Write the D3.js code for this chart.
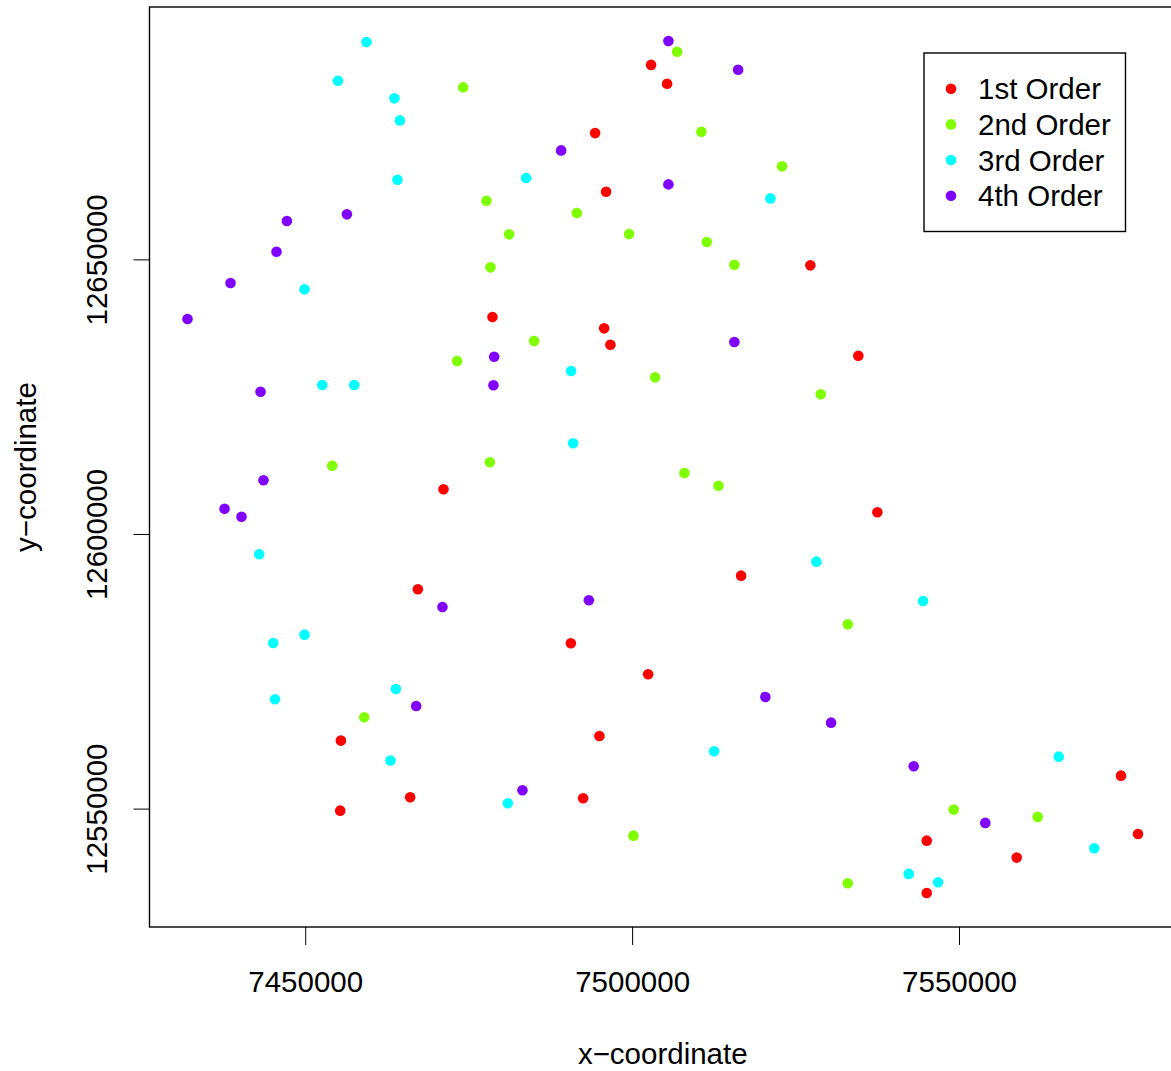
<!DOCTYPE html>
<html>
<head>
<meta charset="utf-8">
<script src="https://cdn.jsdelivr.net/npm/d3@7"></script>
<style>
  body { margin: 0; background: #fff; }
  svg text { font-family: "Liberation Sans", Arial, Helvetica, sans-serif; fill: #000; }
</style>
</head>
<body>
<svg id="chart" width="1171" height="1071"></svg>
<script>
/*******************************************************************************
 * Stream order points
 */
var orderNames = ["1st Order", "2nd Order", "3rd Order", "4th Order"];

var xFirst = [7502900, 7505350, 7494340, 7496020, 7527260, 7478640, 7495720, 7496680, 7534600,
	7471150, 7537510, 7516670, 7467230, 7490630, 7502450, 7455460, 7495000, 7466050, 7492510,
	7455350, 7574770, 7577370, 7545060, 7558820, 7545060];
var yFirst = [12685400, 12681960, 12672990, 12662300, 12648910, 12639500, 12637440, 12634460, 12632450,
	12608140, 12603950, 12592410, 12589930, 12580100, 12574460, 12562380, 12563230, 12552070, 12551890,
	12549630, 12556000, 12545390, 12544170, 12541080, 12534650];

var xSecond = [7506880, 7474160, 7510600, 7522940, 7477720, 7491540, 7481190, 7499540, 7511420,
	7515640, 7478330, 7485010, 7473240, 7503520, 7528850, 7454130, 7478240, 7508000, 7513200,
	7532980, 7459020, 7500200, 7549190, 7562030, 7532980];
var ySecond = [12687790, 12681310, 12673230, 12666930, 12660670, 12658430, 12654550, 12654610, 12653150,
	12649020, 12648540, 12635130, 12631490, 12628520, 12625430, 12612430, 12613050, 12611100, 12608790,
	12583560, 12566640, 12545080, 12549820, 12548490, 12536420];

var xThird = [7459370, 7455000, 7463650, 7464480, 7464110, 7483790, 7521150, 7449890, 7452600,
	7457490, 7490670, 7490980, 7442970, 7528180, 7544500, 7449890, 7445110, 7463870, 7445370,
	7463040, 7512540, 7480990, 7565240, 7570690, 7542310, 7546790];
var yThird = [12689550, 12682510, 12679310, 12675300, 12664490, 12664800, 12661100, 12644540, 12627120,
	12627120, 12629670, 12616510, 12596300, 12594960, 12587800, 12581670, 12580160, 12571790, 12569910,
	12558740, 12560450, 12550980, 12559460, 12542790, 12538110, 12536600];

var xFourth = [7505550, 7516210, 7489140, 7505550, 7456380, 7447200, 7445610, 7438580, 7432000,
	7478900, 7478790, 7515640, 7443170, 7443620, 7437660, 7440260, 7493380, 7470990, 7466970,
	7520380, 7530430, 7483230, 7543070, 7554020];
var yFourth = [12689740, 12684510, 12669840, 12663650, 12658190, 12656970, 12651380, 12645690, 12639130,
	12632270, 12627070, 12634950, 12625900, 12609770, 12604600, 12603150, 12587930, 12586710, 12568690,
	12570330, 12565650, 12553350, 12557720, 12547400];

var xTicks = [7450000, 7500000, 7550000];
var yTicks = [12550000, 12600000, 12650000];

// rainbow(4) like colours
var orderColors = ["#FF0000", "#80FF00", "#00FFFF", "#8000FF"];

(function(){
  'use strict';

  var svg = d3.select("#chart");
  var plot = { left : 149.5, right : 1176, top : 7, bottom : 927 };
  var fontSize = 29.5;

  var series = [
    { xs : xFirst,  ys : yFirst },
    { xs : xSecond, ys : ySecond },
    { xs : xThird,  ys : yThird },
    { xs : xFourth, ys : yFourth }
  ];

  var points = [];
  series.forEach(function(s, k) {
    for ( var i = 0; i < s.xs.length; i++) {
      points.push({ x : s.xs[i], y : s.ys[i], order : k });
    }
  });

  // R style range: data extent padded 4% on each side
  var padded = function(values) {
    var ext = d3.extent(values);
    var pad = (ext[1] - ext[0]) * 0.04;
    return [ ext[0] - pad, ext[1] + pad ];
  };

  var x = d3.scaleLinear()
    .domain(padded(points.map(function(d) { return d.x; })))
    .range([ plot.left, plot.right ]);
  var y = d3.scaleLinear()
    .domain(padded(points.map(function(d) { return d.y; })))
    .range([ plot.bottom, plot.top ]);

  // points
  svg.append("g").selectAll("circle")
    .data(points)
    .enter().append("circle")
      .attr("cx", function(d) { return x(d.x); })
      .attr("cy", function(d) { return y(d.y); })
      .attr("r", 5.3)
      .attr("fill", function(d) { return orderColors[d.order]; });

  // bottom axis
  var xAxis = d3.axisBottom(x).tickValues(xTicks).tickSize(18).tickFormat(d3.format("d"));
  var gx = svg.append("g")
    .attr("transform", "translate(0," + plot.bottom + ")")
    .call(xAxis);
  gx.select(".domain").remove();
  gx.selectAll(".tick line").attr("stroke", "#000").attr("stroke-width", 1);
  gx.selectAll(".tick text")
    .attr("y", 65).attr("dy", null)
    .style("font-size", fontSize + "px")
    .style("font-family", "'Liberation Sans', Arial, sans-serif");

  // left axis, labels parallel to axis
  var yAxis = d3.axisLeft(y).tickValues(yTicks).tickSize(16).tickFormat(d3.format("d"));
  var gy = svg.append("g")
    .attr("transform", "translate(" + plot.left + ",0)")
    .call(yAxis);
  gy.select(".domain").remove();
  gy.selectAll(".tick line").attr("stroke", "#000").attr("stroke-width", 1);
  gy.selectAll(".tick text")
    .attr("x", null).attr("dy", null)
    .attr("transform", "translate(-42.8,0) rotate(-90)")
    .attr("text-anchor", "middle")
    .style("font-size", fontSize + "px")
    .style("font-family", "'Liberation Sans', Arial, sans-serif");

  // frame
  svg.append("rect")
    .attr("x", plot.left).attr("y", plot.top)
    .attr("width", plot.right - plot.left).attr("height", plot.bottom - plot.top)
    .attr("fill", "none").attr("stroke", "#000").attr("stroke-width", 1.4);

  // axis titles
  svg.append("text")
    .attr("x", (plot.left + plot.right) / 2).attr("y", 1063.5)
    .attr("text-anchor", "middle")
    .style("font-size", fontSize + "px")
    .text("x\u2212coordinate");
  svg.append("text")
    .attr("transform", "translate(35.5," + (plot.top + plot.bottom) / 2 + ") rotate(-90)")
    .attr("text-anchor", "middle")
    .style("font-size", fontSize + "px")
    .text("y\u2212coordinate");

  // legend
  var legend = svg.append("g").attr("transform", "translate(924,53)");
  legend.append("rect")
    .attr("width", 201.5).attr("height", 178.5)
    .attr("fill", "#fff").attr("stroke", "#000").attr("stroke-width", 1.4);
  var rows = legend.selectAll("g.row")
    .data(orderNames)
    .enter().append("g")
      .attr("class", "row")
      .attr("transform", function(d, i) { return "translate(0," + (35.7 + i * 35.7) + ")"; });
  rows.append("circle")
    .attr("cx", 27).attr("cy", 0).attr("r", 5.3)
    .attr("fill", function(d, i) { return orderColors[i]; });
  rows.append("text")
    .attr("x", 54).attr("y", 0).attr("dy", "0.36em")
    .style("font-size", fontSize + "px")
    .text(function(d) { return d; });

}());
</script>
</body>
</html>
